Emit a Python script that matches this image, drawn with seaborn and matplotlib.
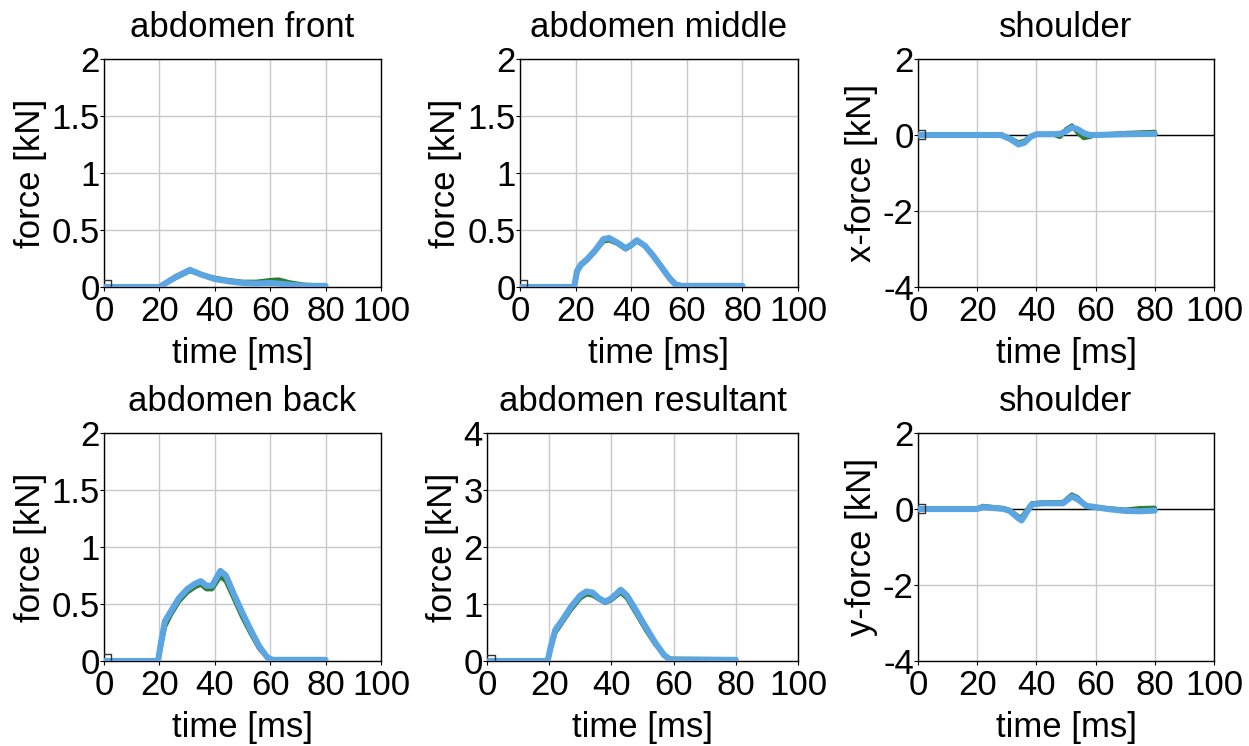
import matplotlib
matplotlib.use("Agg")
import matplotlib.pyplot as plt
import seaborn as sns
import pandas as pd

sns.set_theme(style="whitegrid")
plt.rcParams["font.family"] = ["Liberation Sans", "DejaVu Sans"]
plt.rcParams["axes.unicode_minus"] = False
plt.rcParams["text.color"] = "black"
plt.rcParams["axes.labelcolor"] = "black"
plt.rcParams["xtick.color"] = "black"
plt.rcParams["ytick.color"] = "black"

# ---- measured traces (time in ms, force in kN) ----
t_front = [0, 20, 22, 26, 31, 35, 40, 45, 50, 55, 60, 63, 67, 72, 80]
front_blue = [0, 0, 0.03, 0.09, 0.15, 0.11, 0.07, 0.05, 0.035, 0.03, 0.035, 0.03, 0.02, 0.01, 0.01]
front_green = [0, 0, 0.03, 0.08, 0.14, 0.11, 0.08, 0.06, 0.045, 0.045, 0.06, 0.065, 0.04, 0.02, 0.01]

t_middle = [0, 19.5, 20.5, 22, 24, 27, 30, 32, 35, 38, 40, 42, 45, 48, 51, 54, 56, 58, 80]
middle_blue = [0, 0, 0.14, 0.2, 0.24, 0.32, 0.42, 0.43, 0.39, 0.34, 0.37, 0.41, 0.36, 0.27, 0.17, 0.07, 0.02, 0.01, 0.01]
middle_green = [0, 0, 0.13, 0.19, 0.23, 0.31, 0.40, 0.41, 0.38, 0.33, 0.36, 0.40, 0.36, 0.28, 0.18, 0.08, 0.03, 0.015, 0.015]

t_shx = [0, 20, 25, 28, 31, 34, 36, 38, 40, 45, 48, 50, 52, 54, 56, 58, 60, 70, 80]
shx_blue = [0, 0, 0, 0, -0.1, -0.25, -0.2, -0.05, 0.02, 0.02, 0.03, 0.1, 0.2, 0.15, 0.05, 0, 0, 0.02, 0.03]
shx_green = [0, 0.02, 0, 0.02, -0.08, -0.2, -0.15, -0.03, 0.02, 0.03, -0.05, 0.15, 0.25, 0.05, -0.08, -0.05, 0, 0.05, 0.08]

t_back = [0, 19.5, 20.5, 22, 24, 27, 30, 33, 35, 37, 39, 42, 44, 47, 50, 53, 56, 59, 61, 80]
back_blue = [0, 0, 0.15, 0.35, 0.43, 0.55, 0.63, 0.68, 0.70, 0.66, 0.66, 0.79, 0.75, 0.58, 0.42, 0.27, 0.13, 0.03, 0.01, 0.01]
back_green = [0, 0, 0.12, 0.30, 0.40, 0.52, 0.60, 0.65, 0.67, 0.63, 0.63, 0.74, 0.70, 0.54, 0.38, 0.24, 0.11, 0.03, 0.01, 0.01]

t_res = [0, 19.5, 20.5, 22, 24, 27, 30, 32, 34, 36, 38, 40, 43, 45, 48, 51, 54, 57, 59, 80]
res_blue = [0, 0, 0.25, 0.55, 0.7, 0.95, 1.15, 1.22, 1.20, 1.10, 1.04, 1.10, 1.25, 1.15, 0.88, 0.6, 0.33, 0.1, 0.02, 0.02]
res_green = [0, 0, 0.22, 0.5, 0.66, 0.9, 1.1, 1.17, 1.15, 1.08, 1.02, 1.07, 1.2, 1.1, 0.83, 0.55, 0.3, 0.1, 0.04, 0.03]

t_shy = [0, 20, 22, 25, 29, 31, 34, 35, 37, 38.5, 42, 49, 52, 54, 57, 60, 64, 70, 75, 80]
shy_blue = [0, 0, 0.05, 0.03, 0, -0.05, -0.25, -0.3, -0.05, 0.12, 0.15, 0.15, 0.33, 0.25, 0.08, 0.05, 0.0, -0.05, -0.06, -0.04]
shy_green = [0, 0.02, 0.08, 0.05, 0.02, -0.03, -0.2, -0.22, 0.0, 0.15, 0.17, 0.18, 0.38, 0.3, 0.05, 0.05, 0.02, -0.02, 0.02, 0.03]

# small reference marker at the start of each trace
marker_t = [1.0]
marker_f = [0.02]

panels = [
    dict(title="abdomen front", ylabel="force [kN]", t=t_front, b=front_blue, g=front_green,
         ylim=(0, 2), yticks=[0, 0.5, 1, 1.5, 2], zero=False),
    dict(title="abdomen middle", ylabel="force [kN]", t=t_middle, b=middle_blue, g=middle_green,
         ylim=(0, 2), yticks=[0, 0.5, 1, 1.5, 2], zero=False),
    dict(title="shoulder", ylabel="x-force [kN]", t=t_shx, b=shx_blue, g=shx_green,
         ylim=(-4, 2), yticks=[-4, -2, 0, 2], zero=True),
    dict(title="abdomen back", ylabel="force [kN]", t=t_back, b=back_blue, g=back_green,
         ylim=(0, 2), yticks=[0, 0.5, 1, 1.5, 2], zero=False),
    dict(title="abdomen resultant", ylabel="force [kN]", t=t_res, b=res_blue, g=res_green,
         ylim=(0, 4), yticks=[0, 1, 2, 3, 4], zero=False),
    dict(title="shoulder", ylabel="y-force [kN]", t=t_shy, b=shy_blue, g=shy_green,
         ylim=(-4, 2), yticks=[-4, -2, 0, 2], zero=True),
]

W, H = 1249, 746
# axes boxes in pixels: left, right, top, bottom
boxes = [
    (104, 381, 59, 287), (520, 798, 59, 287), (918, 1214, 59, 287),
    (104, 381, 433, 661), (487, 798, 433, 661), (918, 1214, 433, 661),
]
# right-hand edge of each rotated y-axis label, in pixels
ylabel_x = [47, 462, 878, 47, 459, 878]

GREEN = "#2e7d32"
BLUE = "#5aa5e2"
FS = 25

fig = plt.figure(figsize=(W / 100, H / 100), dpi=100)
for p, (l, r, t, b), yl in zip(panels, boxes, ylabel_x):
    ax = fig.add_axes([l / W, 1 - b / H, (r - l) / W, (b - t) / H])
    df = pd.DataFrame({"time": p["t"], "blue": p["b"], "green": p["g"]})
    sns.lineplot(data=df, x="time", y="green", ax=ax, color=GREEN, lw=3.2,
                 sort=False, estimator=None, zorder=3)
    sns.lineplot(data=df, x="time", y="blue", ax=ax, color=BLUE, lw=4.4,
                 sort=False, estimator=None, zorder=4)
    sns.scatterplot(x=marker_t, y=marker_f, ax=ax, marker="s", s=40,
                    facecolor="none", edgecolor="#333333", linewidth=1.0, zorder=5)
    if p["zero"]:
        ax.axhline(0, color="black", lw=1.0, zorder=2)
    ax.set_xlim(0, 100)
    ax.set_ylim(*p["ylim"])
    ax.set_xticks([0, 20, 40, 60, 80, 100])
    ax.set_yticks(p["yticks"])
    ax.set_yticklabels([f"{v:g}" for v in p["yticks"]])
    ax.set_title(p["title"], fontsize=FS, pad=16)
    ax.set_xlabel("time [ms]", fontsize=FS, labelpad=6)
    ax.set_ylabel(p["ylabel"], fontsize=FS)
    ax.yaxis.set_label_coords((yl - l) / (r - l), 0.5)
    ax.tick_params(axis="x", labelsize=FS, length=3, width=0.8, pad=3,
                   color="black", direction="out", bottom=True)
    ax.tick_params(axis="y", labelsize=FS, length=3, width=0.8, pad=0,
                   color="black", direction="out", left=True)
    ax.set_facecolor("white")
    ax.grid(True, color="#c8c8c8", lw=1.0)
    for s in ax.spines.values():
        s.set_color("black")
        s.set_linewidth(1.0)

fig.savefig("out.png", dpi=100, facecolor="white")
